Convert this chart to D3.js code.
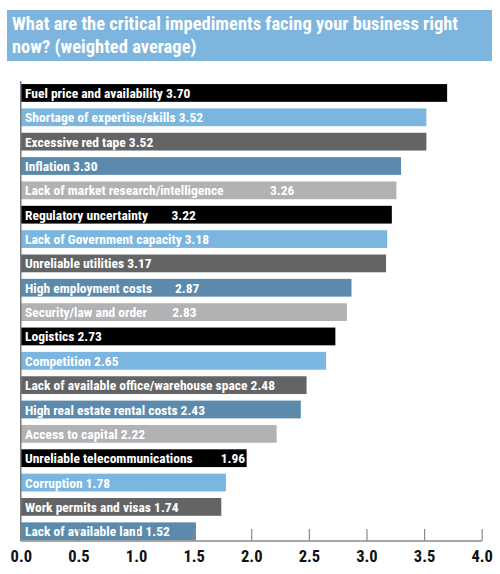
<!DOCTYPE html>
<html>
<head>
<meta charset="utf-8">
<script src="https://cdn.jsdelivr.net/npm/d3@7/dist/d3.min.js"></script>
<style>
  html, body { margin: 0; padding: 0; background: #fff; }
  svg { display: block; }
  text { font-family: "Roboto Condensed", "Liberation Sans Narrow", "DejaVu Sans Condensed", sans-serif; font-weight: bold; }
</style>
</head>
<body>
<svg id="chart" width="500" height="574"></svg>
<script>
const titleLines = ["What are the critical impediments facing your business right", "now? (weighted average)"];
const categories = [
  "Fuel price and availability",
  "Shortage of expertise/skills",
  "Excessive red tape",
  "Inflation",
  "Lack of market research/intelligence",
  "Regulatory uncertainty",
  "Lack of Government capacity",
  "Unreliable utilities",
  "High employment costs",
  "Security/law and order",
  "Logistics",
  "Competition",
  "Lack of available office/warehouse space",
  "High real estate rental costs",
  "Access to capital",
  "Unreliable telecommunications",
  "Corruption",
  "Work permits and visas",
  "Lack of available land"
];
const values = [3.70, 3.52, 3.52, 3.30, 3.26, 3.22, 3.18, 3.17, 2.87, 2.83, 2.73, 2.65, 2.48, 2.43, 2.22, 1.96, 1.78, 1.74, 1.52];
const tickValues = [0, 0.5, 1.0, 1.5, 2.0, 2.5, 3.0, 3.5, 4.0];
const palette = ["#000000", "#7ab6df", "#636466", "#5b8aac", "#b1b2b4"];

const svg = d3.select("#chart");

// Title box
svg.append("rect").attr("x", 7).attr("y", 10).attr("width", 485).attr("height", 51).attr("fill", "#7db5de");
const tt = svg.append("text").attr("fill", "#fff").attr("font-size", 18.5);
titleLines.forEach((l, i) => {
  tt.append("tspan").attr("x", 12).attr("y", 30 + i * 22.5).text(l);
});

const x = d3.scaleLinear().domain([0, 4]).range([20.8, 481.7]);
const y = d3.scaleBand().domain(categories).range([82.6, 541.6]).paddingInner(0.27).paddingOuter(0.06);

const g = svg.append("g");
g.selectAll("rect.bar").data(categories).join("rect")
  .attr("class", "bar")
  .attr("x", x(0))
  .attr("y", d => y(d))
  .attr("width", (d, i) => x(values[i]) - x(0))
  .attr("height", y.bandwidth())
  .attr("fill", (d, i) => palette[i % palette.length]);

// Labels; some values are detached from the text in the original
const detachedValueX = {
  "Lack of market research/intelligence": 270,
  "Regulatory uncertainty": 171.5,
  "High employment costs": 175,
  "Security/law and order": 172.3,
  "Unreliable telecommunications": 220.7
};
const fs = 13.5;
categories.forEach((c, i) => {
  const by = y(c) + y.bandwidth() / 2 + 5;
  const v = values[i].toFixed(2);
  if (detachedValueX[c] !== undefined) {
    g.append("text").attr("x", 25).attr("y", by).attr("fill", "#fff").attr("font-size", fs).text(c);
    g.append("text").attr("x", detachedValueX[c]).attr("y", by).attr("fill", "#fff").attr("font-size", fs).text(v);
  } else {
    g.append("text").attr("x", 25).attr("y", by).attr("fill", "#fff").attr("font-size", fs).text(c + " " + v);
  }
});

// Left vertical line
svg.append("line").attr("x1", x(0)).attr("x2", x(0)).attr("y1", 81).attr("y2", 541).attr("stroke", "#777").attr("stroke-width", 1.5);

// Bottom axis
const axis = d3.axisBottom(x).tickValues(tickValues).tickFormat(d3.format(".1f")).tickSize(-12).tickPadding(9);
const ag = svg.append("g").attr("transform", "translate(0,541)").call(axis);
ag.select(".domain").attr("stroke", "#888").attr("stroke-width", 1.5).attr("d", `M${x(0)},0H${x(4)}`);
ag.selectAll(".tick line").attr("stroke", "#888").attr("stroke-width", 1.2);
ag.selectAll(".tick text").attr("fill", "#111").attr("font-size", 16.5)
  .attr("font-family", "'Roboto Condensed', sans-serif").attr("font-weight", "bold");
</script>
</body>
</html>
